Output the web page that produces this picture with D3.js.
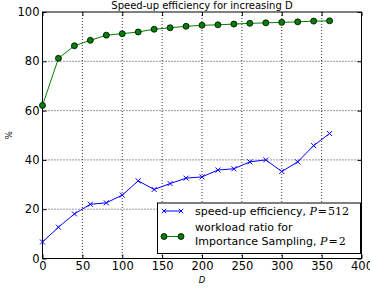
<!DOCTYPE html>
<html><head><meta charset="utf-8">
<script src="https://cdn.jsdelivr.net/npm/d3@7"></script>
<style>body{margin:0;background:#fff}svg{display:block}text{font-family:"DejaVu Sans",sans-serif}</style>
</head><body>
<svg id="c" width="370" height="289"></svg>
<script>
const dValues = [0,20,40,60,80,100,120,140,160,180,200,220,240,260,280,300,320,340,360];
const speedup = [6.7,12.7,18.1,22.0,22.6,25.7,31.5,28.0,30.4,32.6,33.1,35.9,36.4,39.2,40.0,35.3,39.2,45.8,50.7];
const workload = [62.1,81.2,86.3,88.5,90.6,91.2,91.9,93.0,93.6,94.2,94.6,94.8,95.1,95.4,95.6,95.8,96.0,96.3,96.4];
const xTicks = [0,50,100,150,200,250,300,350,400];
const yTicks = [0,20,40,60,80,100];

const svg = d3.select("#c");
const L=42.5, R=361.5, T=12, B=258.5;
const x = d3.scaleLinear().domain([0,400]).range([L,R]);
const y = d3.scaleLinear().domain([0,100]).range([B,T]);

// grid
const g = svg.append("g");
g.selectAll(".gx").data(xTicks.slice(1,-1)).enter().append("line")
 .attr("x1",d=>x(d)).attr("x2",d=>x(d)).attr("y1",T).attr("y2",B)
 .attr("stroke","#000").attr("stroke-width",0.8).attr("stroke-dasharray","1,2");
g.selectAll(".gy").data(yTicks.slice(1,-1)).enter().append("line")
 .attr("y1",d=>y(d)).attr("y2",d=>y(d)).attr("x1",L).attr("x2",R)
 .attr("stroke","#000").attr("stroke-width",0.8).attr("stroke-dasharray","1,2");

// axes
const axB = d3.axisBottom(x).tickValues(xTicks).tickSizeInner(-4).tickSizeOuter(0).tickPadding(3);
const axT = d3.axisTop(x).tickValues(xTicks).tickSizeInner(-4).tickSizeOuter(0).tickFormat("");
const axL = d3.axisLeft(y).tickValues(yTicks).tickSizeInner(-4).tickSizeOuter(0).tickPadding(3);
const axR = d3.axisRight(y).tickValues(yTicks).tickSizeInner(-4).tickSizeOuter(0).tickFormat("");
function style(s){s.selectAll("path").remove();s.selectAll("line").attr("stroke","#000");s.selectAll("text").attr("font-size","11.5px").attr("fill","#000").attr("font-family","DejaVu Sans");}
svg.append("g").attr("transform",`translate(0,${B})`).call(axB).call(style);
svg.append("g").attr("transform",`translate(0,${T})`).call(axT).call(style);
svg.append("g").attr("transform",`translate(${L},0)`).call(axL).call(style);
svg.append("g").attr("transform",`translate(${R},0)`).call(axR).call(style);
svg.append("rect").attr("x",L).attr("y",T).attr("width",R-L).attr("height",B-T)
 .attr("fill","none").attr("stroke","#000").attr("stroke-width",1);

const line = d3.line().x((d,i)=>x(dValues[i])).y(d=>y(d));
// workload (green)
svg.append("path").datum(workload).attr("d",line).attr("fill","none").attr("stroke","#008000").attr("stroke-width",1);
svg.selectAll(".gm").data(workload).enter().append("circle")
 .attr("cx",(d,i)=>x(dValues[i])).attr("cy",d=>y(d)).attr("r",3)
 .attr("fill","#008000").attr("stroke","#000").attr("stroke-width",0.8);
// speedup (blue)
svg.append("path").datum(speedup).attr("d",line).attr("fill","none").attr("stroke","#0000ff").attr("stroke-width",1);
const cross = (sel,cx,cy,s)=>{
  sel.append("path").attr("d",`M${cx-s},${cy-s}L${cx+s},${cy+s}M${cx-s},${cy+s}L${cx+s},${cy-s}`)
   .attr("stroke","#0000ff").attr("stroke-width",1).attr("fill","none");
};
speedup.forEach((d,i)=>cross(svg,x(dValues[i]),y(d),2.5));

// title & labels
svg.append("text").attr("x",(L+R)/2).attr("y",9).attr("text-anchor","middle").attr("font-size","10px").text("Speed-up efficiency for increasing D");
svg.append("text").attr("transform",`translate(12,${(T+B)/2}) rotate(-90)`).attr("text-anchor","middle").attr("font-size","8.5px").text("%");
svg.append("text").attr("x",(L+R)/2).attr("y",283).attr("text-anchor","middle").attr("font-size","8.5px").attr("font-style","italic").attr("font-family","DejaVu Serif").text("D");

// legend
const lg = svg.append("g");
lg.append("rect").attr("x",157.5).attr("y",203).attr("width",203).attr("height",50.5)
 .attr("fill","#fff").attr("stroke","#000").attr("stroke-width",1);
lg.append("line").attr("x1",164).attr("x2",181).attr("y1",211).attr("y2",211).attr("stroke","#0000ff");
cross(lg,164,211,2.2); cross(lg,181,211,2.2);
lg.append("line").attr("x1",164).attr("x2",181).attr("y1",236.5).attr("y2",236.5).attr("stroke","#008000");
[164,181].forEach(cx=>lg.append("circle").attr("cx",cx).attr("cy",236.5).attr("r",3).attr("fill","#008000").attr("stroke","#000").attr("stroke-width",0.8));
const t1 = lg.append("text").attr("x",195).attr("y",215).attr("font-size","11px");
t1.append("tspan").text("speed-up efficiency, ");
t1.append("tspan").attr("font-family","DejaVu Serif").attr("font-style","italic").text("P");
t1.append("tspan").attr("font-family","DejaVu Serif").attr("dx","1").text("=");
t1.append("tspan").attr("font-family","DejaVu Serif").attr("dx","1").text("512");
lg.append("text").attr("x",195).attr("y",231).attr("font-size","11px").text("workload ratio for");
const t3 = lg.append("text").attr("x",195).attr("y",245).attr("font-size","11px");
t3.append("tspan").text("Importance Sampling, ");
t3.append("tspan").attr("font-family","DejaVu Serif").attr("font-style","italic").text("P");
t3.append("tspan").attr("font-family","DejaVu Serif").attr("dx","1").text("=");
t3.append("tspan").attr("font-family","DejaVu Serif").attr("dx","1").text("2");
</script>
</body></html>
